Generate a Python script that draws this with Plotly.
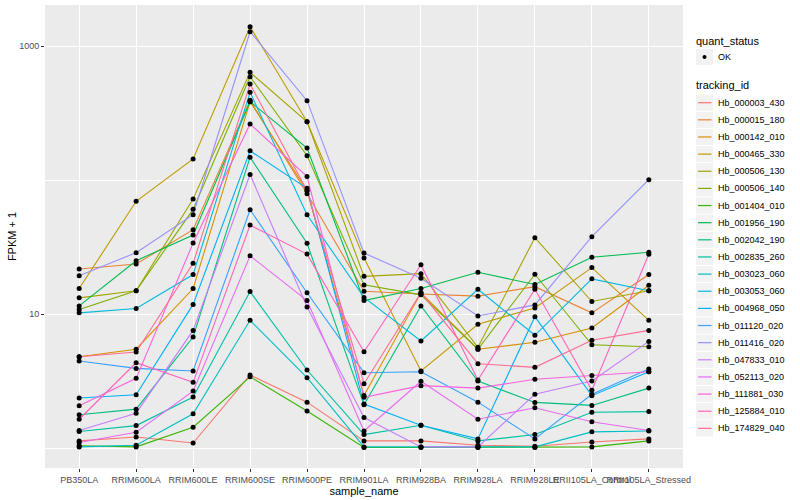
import plotly.graph_objects as go

samples = ["PB350LA", "RRIM600LA", "RRIM600LE", "RRIM600SE", "RRIM600PE",
           "RRIM901LA", "RRIM928BA", "RRIM928LA", "RRIM928LE",
           "RRII105LA_Control", "RRII105LA_Stressed"]

tracking_ids = ["Hb_000003_430", "Hb_000015_180", "Hb_000142_010", "Hb_000465_330",
                "Hb_000506_130", "Hb_000506_140", "Hb_001404_010", "Hb_001956_190",
                "Hb_002042_190", "Hb_002835_260", "Hb_003023_060", "Hb_003053_060",
                "Hb_004968_050", "Hb_011120_020", "Hb_011416_020", "Hb_047833_010",
                "Hb_052113_020", "Hb_111881_030", "Hb_125884_010", "Hb_174829_040"]

colors = ["#F8766D", "#EA8331", "#D89000", "#C09B00", "#A3A500", "#7CAE00", "#39B600",
          "#00BB4E", "#00BF7D", "#00C1A3", "#00BFC4", "#00BAE0", "#00B0F6", "#35A2FF",
          "#9590FF", "#C77CFF", "#E76BF3", "#FA62DB", "#FF62BC", "#FF6C91"]

# FPKM + 1 values per tracking_id, in sample order
Hb_000003_430 = [1.13, 1.21, 1.09, 3.51, 2.20, 1.13, 1.13, 1.05, 1.03, 1.11, 1.17]
Hb_000015_180 = [21.7, 23.6, 42.6, 393, 79, 14.8, 14.1, 13.6, 16.0, 10.2, 19.7]
Hb_000142_010 = [4.80, 5.46, 15.5, 384, 83.2, 2.47, 14.4, 5.46, 6.15, 7.86, 16.4]
Hb_000465_330 = [15.5, 69.4, 143.5, 1393, 272, 26.2, 3.76, 8.38, 11.1, 22.2, 8.98]
Hb_000506_130 = [13.2, 14.9, 72.1, 636, 272, 19.1, 20.0, 5.64, 37.1, 12.4, 14.9]
Hb_000506_140 = [10.8, 14.9, 60.4, 590, 152, 16.5, 13.9, 5.46, 19.8, 5.9, 5.7]
Hb_001404_010 = [1.04, 1.02, 1.43, 3.40, 1.89, 1.01, 1.01, 1.01, 1.01, 1.02, 1.13]
Hb_001956_190 = [11.5, 25.0, 38.9, 384, 173, 12.6, 15.5, 20.5, 16.6, 26.5, 28.9]
Hb_002042_190 = [1.77, 1.95, 6.73, 148, 33.7, 2.10, 11.5, 3.16, 2.19, 2.08, 2.80]
Hb_002835_260 = [1.33, 1.47, 2.40, 14.7, 3.82, 1.26, 1.48, 1.13, 1.26, 1.85, 1.87]
Hb_003023_060 = [1.02, 1.05, 1.80, 8.98, 3.35, 1.02, 1.02, 1.02, 1.02, 1.32, 1.34]
Hb_003053_060 = [10.2, 11.0, 19.7, 451, 55.1, 13.3, 6.29, 15.3, 6.94, 18.3, 14.9]
Hb_004968_050 = [2.36, 2.50, 11.8, 165, 86.8, 2.13, 1.48, 1.17, 9.55, 2.46, 3.71]
Hb_011120_020 = [4.46, 3.93, 3.76, 60.0, 14.4, 3.65, 3.71, 2.20, 1.17, 2.52, 3.89]
Hb_011416_020 = [19.3, 28.7, 55.1, 1278, 391, 28.5, 18.5, 9.66, 11.7, 37.8, 100.5]
Hb_047833_010 = [1.35, 1.82, 7.55, 110, 11.3, 1.69, 1.02, 1.02, 2.52, 3.16, 6.25]
Hb_052113_020 = [1.10, 1.31, 2.66, 27.2, 12.6, 1.34, 3.15, 1.64, 2.00, 1.57, 1.35]
Hb_111881_030 = [2.07, 3.31, 33.9, 262, 106, 2.39, 2.92, 2.80, 3.26, 3.47, 3.71]
Hb_125884_010 = [1.64, 4.33, 3.09, 46.1, 28.0, 5.23, 23.3, 3.22, 15.3, 2.70, 27.9]
Hb_174829_040 = [4.80, 5.20, 23.9, 520, 83.2, 3.02, 14.4, 4.26, 4.00, 6.37, 7.55]

series = [Hb_000003_430, Hb_000015_180, Hb_000142_010, Hb_000465_330, Hb_000506_130,
          Hb_000506_140, Hb_001404_010, Hb_001956_190, Hb_002042_190, Hb_002835_260,
          Hb_003023_060, Hb_003053_060, Hb_004968_050, Hb_011120_020, Hb_011416_020,
          Hb_047833_010, Hb_052113_020, Hb_111881_030, Hb_125884_010, Hb_174829_040]

quant_status = ["OK"]
y_major = [10, 1000]
y_minor = [1, 100]

FONT = "Liberation Sans, Arial, sans-serif"
W, H = 800, 500
ML, MR, MT, MB = 45, 117, 5, 32
PW, PH = W - ML - MR, H - MT - MB


def px_to_paper(px, py):
    return (px - ML) / PW, (H - MB - py) / PH


fig = go.Figure()
for name, col, vals in zip(tracking_ids, colors, series):
    fig.add_trace(go.Scatter(
        x=samples, y=vals, mode="lines", name=name,
        line=dict(color=col, width=1.1), showlegend=False,
    ))

all_x = [s for _ in series for s in samples]
all_y = [v for vals in series for v in vals]
fig.add_trace(go.Scatter(
    x=all_x, y=all_y, mode="markers", name=quant_status[0],
    marker=dict(color="black", size=5), showlegend=False,
))

# ---- ggplot-style legend drawn in the right margin ----
shapes, annotations = [], []
key_x0, key_x1 = 696, 713
text_x = 716
step = 17.14


def key_box(yc):
    x0, y0 = px_to_paper(key_x0, yc + step / 2 - 0.5)
    x1, y1 = px_to_paper(key_x1, yc - step / 2 + 0.5)
    shapes.append(dict(type="rect", xref="paper", yref="paper", x0=x0, x1=x1, y0=y0, y1=y1,
                       fillcolor="#F2F2F2", line=dict(width=0), layer="below"))


def label(text, px, py, size, color="black"):
    x, y = px_to_paper(px, py)
    annotations.append(dict(text=text, x=x, y=y, xref="paper", yref="paper",
                            xanchor="left", yanchor="middle", showarrow=False,
                            font=dict(size=size, color=color, family=FONT)))


label("quant_status", 694, 41, 11)
key_box(57)
cx, cy = px_to_paper(704.5, 57)
dx, dy = 2.0 / PW, 2.0 / PH
shapes.append(dict(type="circle", xref="paper", yref="paper", x0=cx - dx, x1=cx + dx,
                   y0=cy - dy, y1=cy + dy, fillcolor="black", line=dict(width=0)))
label(quant_status[0], text_x, 57, 9)

label("tracking_id", 694, 85, 11)
for i, (name, col) in enumerate(zip(tracking_ids, colors)):
    yc = 102.7 + i * step
    key_box(yc)
    lx0, ly = px_to_paper(698, yc)
    lx1, _ = px_to_paper(711.5, yc)
    shapes.append(dict(type="line", xref="paper", yref="paper", x0=lx0, x1=lx1, y0=ly, y1=ly,
                       line=dict(color=col, width=1.2)))
    label(name, text_x, yc, 9)

fig.update_layout(
    width=W, height=H,
    margin=dict(l=ML, r=MR, t=MT, b=MB, autoexpand=False),
    paper_bgcolor="white", plot_bgcolor="#EBEBEB",
    font=dict(family=FONT, size=9, color="#4D4D4D"),
    showlegend=False,
    shapes=shapes, annotations=annotations,
    xaxis=dict(
        type="category", categoryorder="array", categoryarray=samples,
        range=[-0.6, len(samples) - 0.4],
        showgrid=True, gridcolor="white", gridwidth=1.1,
        ticks="outside", ticklen=3, tickcolor="#333333", tickwidth=1,
        tickangle=0, tickfont=dict(size=9, color="#4D4D4D"),
        title=dict(text="sample_name", font=dict(size=11, color="black"), standoff=0),
        zeroline=False, showline=False, automargin=False,
    ),
    yaxis=dict(
        type="log", range=[-0.149, 3.306],
        tickmode="array", tickvals=y_major, ticktext=[str(v) for v in y_major],
        showgrid=True, gridcolor="white", gridwidth=1.1,
        minor=dict(tickmode="array", tickvals=y_minor, showgrid=True,
                   gridcolor="white", gridwidth=0.6, ticks=""),
        ticks="outside", ticklen=3, tickcolor="#333333", tickwidth=1,
        tickfont=dict(size=9, color="#4D4D4D"),
        title=dict(text="FPKM + 1", font=dict(size=11, color="black"), standoff=0),
        zeroline=False, showline=False, automargin=False,
    ),
)

fig.write_html(
    "out.html",
    config={"displayModeBar": False},
    post_script="document.body.style.margin='0';document.body.style.padding='0';",
)
